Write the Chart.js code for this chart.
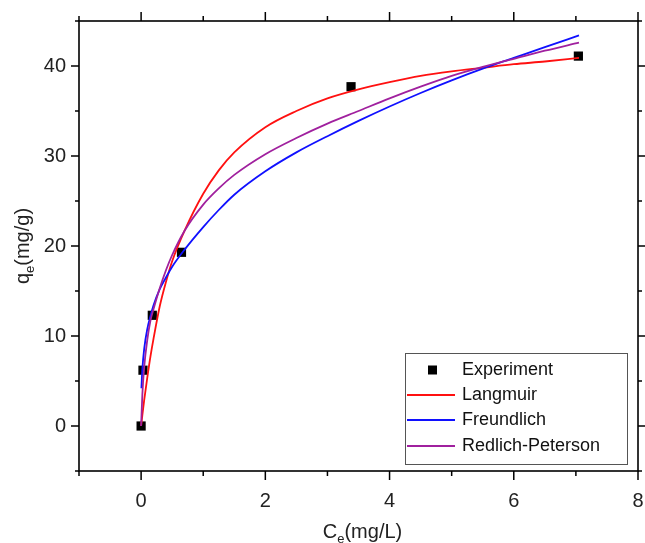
<!DOCTYPE html>
<html>
<head>
<meta charset="utf-8">
<script src="https://cdn.jsdelivr.net/npm/chart.js@4"></script>
<style>
  body { margin: 0; background: #fff; }
  #wrap { width: 645px; height: 543px; position: relative; }
</style>
</head>
<body>
<div id="wrap"><canvas id="isoterma"></canvas></div>
<script>
// experimental points
const expX = [0, 0.03, 0.18, 0.65, 3.38, 7.04];
const expY = [0, 6.2, 12.3, 19.3, 37.7, 41.1];

// fitted curves, values
const fitX = [0, 0.02, 0.05, 0.1, 0.15, 0.2, 0.3, 0.4, 0.5, 0.7, 1.0, 1.25, 1.5, 2, 2.5, 3, 3.5, 4, 4.5, 5, 5.5, 6, 6.5, 7.05];
const langmuirY = [0, 1.2, 2.9, 5.4, 7.7, 9.7, 13.3, 16.0, 18.3, 21.7, 25.8, 28.4, 30.4, 33.2, 35.0, 36.4, 37.4, 38.2, 38.9, 39.4, 39.8, 40.2, 40.5, 40.9];
const redlichY = [0, 3.5, 6.6, 9.6, 11.7, 13.0, 15.3, 17.3, 19.0, 21.7, 24.6, 26.4, 27.9, 30.2, 32.0, 33.6, 35.0, 36.4, 37.7, 38.9, 39.9, 40.8, 41.7, 42.6];
const freundX = [0.005, 0.02, 0.05, 0.1, 0.15, 0.2, 0.3, 0.4, 0.5, 0.7, 1.0, 1.25, 1.5, 2, 2.5, 3, 3.5, 4, 4.5, 5, 5.5, 6, 6.5, 7.05];
const freundY = [4.2, 6.3, 8.6, 10.8, 12.2, 13.4, 15.2, 16.5, 17.7, 19.6, 22.1, 24.0, 25.7, 28.3, 30.4, 32.2, 33.9, 35.5, 37.0, 38.4, 39.7, 40.9, 42.1, 43.4];

const xTicks = [-1, 0, 1, 2, 3, 4, 5, 6, 7, 8];
const yTicks = [-5, 0, 5, 10, 15, 20, 25, 30, 35, 40, 45];

const FONT = "'Liberation Sans', Arial, sans-serif";

function pts(xs, ys) {
    return xs.map((x, i) => ({ x: x, y: ys[i] }));
}

// frame, inner/outer ticks, axis titles with subscripts, legend box
const framePlugin = {
    id: 'framePlugin',
    afterDraw(chart) {
        const c = chart.ctx;
        const a = chart.chartArea;
        const sx = chart.scales.x, sy = chart.scales.y;
        c.save();
        c.strokeStyle = '#000';
        c.lineWidth = 1.6;
        c.strokeRect(a.left, a.top, a.right - a.left, a.bottom - a.top);

        c.lineWidth = 1.5;
        c.beginPath();
        xTicks.forEach(v => {
            const px = sx.getPixelForValue(v);
            const len = (v % 2 === 0) ? 9 : 5;
            c.moveTo(px, a.bottom); c.lineTo(px, a.bottom + len);
            c.moveTo(px, a.top); c.lineTo(px, a.top - len);
        });
        yTicks.forEach(v => {
            const py = sy.getPixelForValue(v);
            const len = (v % 10 === 0) ? 8 : 4;
            c.moveTo(a.left, py); c.lineTo(a.left - len, py);
            c.moveTo(a.right, py); c.lineTo(a.right + len, py);
        });
        c.stroke();

        // axis titles
        c.fillStyle = '#222';
        c.textBaseline = 'alphabetic';
        const big = '20px ' + FONT, small = '13px ' + FONT;
        // x title: C_e(mg/L)
        c.font = big;
        const wC = c.measureText('C').width;
        const wRest = c.measureText('(mg/L)').width;
        c.font = small;
        const wE = c.measureText('e').width;
        let x0 = (a.left + a.right) / 2 - (wC + wE + wRest) / 2 + 4;
        const yb = 538;
        c.textAlign = 'left';
        c.font = big; c.fillText('C', x0, yb);
        c.font = small; c.fillText('e', x0 + wC, yb + 5);
        c.font = big; c.fillText('(mg/L)', x0 + wC + wE, yb);

        // y title: q_e(mg/g)
        c.save();
        c.translate(29, 246);
        c.rotate(-Math.PI / 2);
        c.font = big;
        const wq = c.measureText('q').width;
        const wR = c.measureText('(mg/g)').width;
        let s = -(wq + wE + wR) / 2;
        c.fillText('q', s, 0);
        c.font = small; c.fillText('e', s + wq, 5);
        c.font = big; c.fillText('(mg/g)', s + wq + wE, 0);
        c.restore();

        // legend
        const bx = 405, by = 353, bw = 222, bh = 111;
        c.fillStyle = '#fff';
        c.fillRect(bx, by, bw, bh);
        c.strokeStyle = '#555';
        c.lineWidth = 1;
        c.strokeRect(bx + 0.5, by + 0.5, bw, bh);
        c.font = '18px ' + FONT;
        c.textBaseline = 'middle';
        const rows = [370, 395, 420, 446];
        chart.data.datasets.forEach((ds, i) => {
            const ry = rows[i];
            if (ds.showLine) {
                c.strokeStyle = ds.borderColor;
                c.lineWidth = 1.8;
                c.beginPath();
                c.moveTo(407, ry); c.lineTo(455, ry);
                c.stroke();
            } else {
                c.fillStyle = '#000';
                c.fillRect(428, ry - 4.5, 9, 9);
            }
            c.fillStyle = '#111';
            c.fillText(ds.label, 462, ry);
        });
        c.restore();
    }
};

const ctx = document.getElementById('isoterma').getContext('2d');

new Chart(ctx, {
    type: 'scatter',
    data: {
        datasets: [{
            label: 'Experiment',
            data: pts(expX, expY),
            showLine: false,
            pointStyle: 'rect',
            pointRadius: 6.5,
            backgroundColor: '#000',
            borderColor: '#000',
            borderWidth: 0,
            order: 5
        }, {
            label: 'Langmuir',
            data: pts(fitX, langmuirY),
            showLine: true,
            borderColor: '#FF1010',
            borderWidth: 1.8,
            pointRadius: 0,
            cubicInterpolationMode: 'monotone',
            order: 3
        }, {
            label: 'Freundlich',
            data: pts(freundX, freundY),
            showLine: true,
            borderColor: '#1010FF',
            borderWidth: 1.8,
            pointRadius: 0,
            cubicInterpolationMode: 'monotone',
            order: 2
        }, {
            label: 'Redlich-Peterson',
            data: pts(fitX, redlichY),
            showLine: true,
            borderColor: '#A0209E',
            borderWidth: 1.8,
            pointRadius: 0,
            cubicInterpolationMode: 'monotone',
            order: 1
        }]
    },
    options: {
        responsive: true,
        maintainAspectRatio: false,
        animation: false,
        events: [],
        layout: { padding: { left: 0, right: 7, top: 21, bottom: 0 } },
        plugins: {
            legend: { display: false },
            tooltip: { enabled: false }
        },
        scales: {
            x: {
                type: 'linear',
                min: -1,
                max: 8,
                afterFit(scale) {
                    scale.height = 72;
                    scale.paddingLeft = 0; scale.paddingRight = 0;
                    scale.paddingTop = 0; scale.paddingBottom = 0;
                },
                ticks: {
                    stepSize: 1,
                    padding: 18,
                    color: '#222',
                    font: { size: 20, family: FONT },
                    callback: v => (v % 2 === 0 ? v : '')
                },
                grid: { display: false, drawTicks: false },
                border: { display: false }
            },
            y: {
                type: 'linear',
                min: -5,
                max: 45,
                afterFit(scale) {
                    scale.width = 79;
                    scale.paddingLeft = 0; scale.paddingRight = 0;
                    scale.paddingTop = 0; scale.paddingBottom = 0;
                },
                ticks: {
                    stepSize: 5,
                    padding: 13,
                    color: '#222',
                    font: { size: 20, family: FONT },
                    callback: v => (v % 10 === 0 ? v : '')
                },
                grid: { display: false, drawTicks: false },
                border: { display: false }
            }
        }
    },
    plugins: [framePlugin]
});
</script>
</body>
</html>
